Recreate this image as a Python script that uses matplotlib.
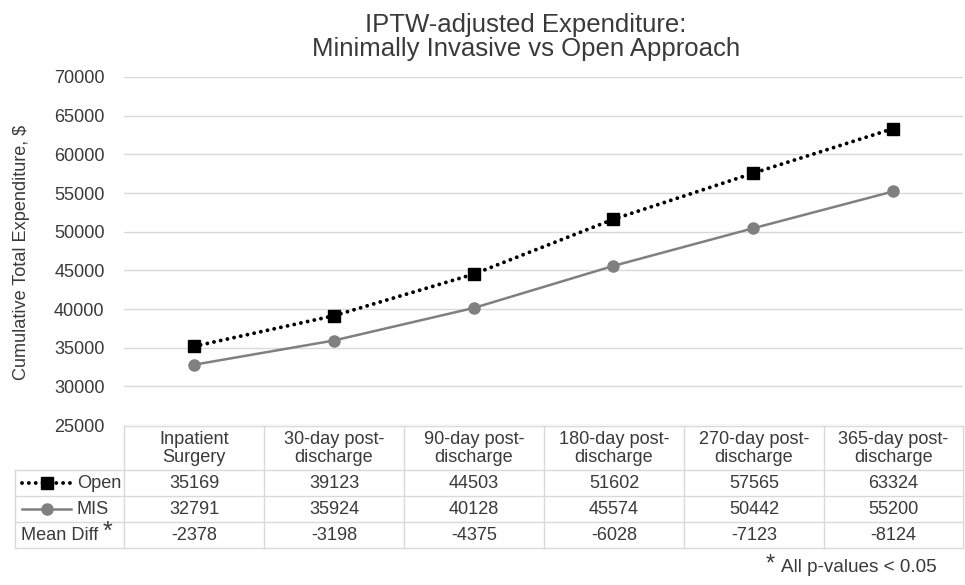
import matplotlib
matplotlib.use("Agg")
import matplotlib.pyplot as plt
from matplotlib.lines import Line2D

# data
periods = ["Inpatient\nSurgery", "30-day post-\ndischarge", "90-day post-\ndischarge",
           "180-day post-\ndischarge", "270-day post-\ndischarge", "365-day post-\ndischarge"]
open_cost = [35169, 39123, 44503, 51602, 57565, 63324]
mis_cost = [32791, 35924, 40128, 45574, 50442, 55200]
mean_diff = [-2378, -3198, -4375, -6028, -7123, -8124]
yticks = [25000, 30000, 35000, 40000, 45000, 50000, 55000, 60000, 65000, 70000]

plt.rcParams['font.family'] = ['Liberation Sans', 'DejaVu Sans']
txt = "#3a3a3a"
grid_c = "#d9d9d9"
fs = 13.1

W, H = 965, 585
fig = plt.figure(figsize=(W / 100, H / 100), dpi=100)


def fx(p):
    return p / W


def fy(p):
    return 1 - p / H


# plot area in pixels
x0, x1, ytop, ybot = 124, 963, 77, 425
ax = fig.add_axes([fx(x0), fy(ybot), (x1 - x0) / W, (ybot - ytop) / H])

open_style = dict(color="black", linestyle=(0, (0.01, 1.75)), linewidth=2.8,
                  dash_capstyle="round", marker="s", markersize=8)
mis_style = dict(color="#808080", linestyle="-", linewidth=1.8,
                 dash_capstyle="butt", marker="o", markersize=8)

x = list(range(len(periods)))
ax.plot(x, open_cost, label="Open", zorder=3, **open_style)
ax.plot(x, mis_cost, label="MIS", zorder=3, **mis_style)

ax.set_xlim(-0.5, len(periods) - 0.5)
ax.set_ylim(25000, 70000)
ax.set_yticks(yticks)
ax.set_xticks([])
ax.tick_params(axis="y", length=0, pad=14, labelsize=fs, labelcolor=txt)
ax.grid(axis="y", color=grid_c, linewidth=1)
ax.set_axisbelow(True)
for s in ax.spines.values():
    s.set_visible(False)

fig.text(fx(22), fy(252), "Cumulative Total Expenditure, $", rotation=90,
         ha="center", va="center", fontsize=fs, color=txt)

fig.text(fx(526), fy(37), "IPTW-adjusted Expenditure:\nMinimally Invasive vs Open Approach",
         ha="center", va="center", fontsize=18.5, color=txt, linespacing=1.05)

# data table below the plot (pixel layout)
col_edges = [15, 124, 264, 404, 544, 684, 824, 963]
row_edges = [426, 470, 496, 522, 548]


def hline(y, xa, xb):
    fig.add_artist(Line2D([fx(xa), fx(xb)], [fy(y), fy(y)], transform=fig.transFigure,
                          color=grid_c, linewidth=1))


def vline(xp, ya, yb):
    fig.add_artist(Line2D([fx(xp), fx(xp)], [fy(ya), fy(yb)], transform=fig.transFigure,
                          color=grid_c, linewidth=1))


hline(row_edges[0], col_edges[1], col_edges[-1])
for r in row_edges[1:]:
    hline(r, col_edges[0], col_edges[-1])
vline(col_edges[0], row_edges[1], row_edges[-1])
for c in col_edges[1:]:
    vline(c, row_edges[0], row_edges[-1])

rows = [open_cost, mis_cost, mean_diff]
for j, lab in enumerate(periods):
    xc = (col_edges[j + 1] + col_edges[j + 2]) / 2
    fig.text(fx(xc), fy(448.5), lab, ha="center", va="center",
             fontsize=fs, color=txt, linespacing=1.12)
    for i, vals in enumerate(rows):
        yc = (row_edges[i + 1] + row_edges[i + 2]) / 2
        fig.text(fx(xc), fy(yc), str(vals[j]), ha="center", va="center",
                 fontsize=fs, color=txt)

# legend keys inside the row labels
for yrow, lbl, st in [(483, "Open", open_style), (509, "MIS", mis_style)]:
    fig.add_artist(Line2D([fx(22), fx(71)], [fy(yrow), fy(yrow)], transform=fig.transFigure,
                          color=st["color"], linestyle=st["linestyle"], linewidth=st["linewidth"],
                          dash_capstyle=st["dash_capstyle"]))
    fig.add_artist(Line2D([fx(46.5)], [fy(yrow)], transform=fig.transFigure, linestyle="none",
                          color=st["color"], marker=st["marker"], markersize=st["markersize"]))
    fig.text(fx(77), fy(yrow), lbl, ha="left", va="center", fontsize=fs, color=txt)

fig.text(fx(21), fy(535), "Mean Diff", ha="left", va="center", fontsize=fs, color=txt)
fig.text(fx(107), fy(532), "*", ha="center", va="center", fontsize=18, color=txt)

fig.text(fx(937), fy(568), "All p-values < 0.05", ha="right", va="center",
         fontsize=13.6, color=txt)
fig.text(fx(770), fy(565), "*", ha="center", va="center", fontsize=17, color=txt)

fig.savefig("out.png", dpi=100, facecolor="white")
